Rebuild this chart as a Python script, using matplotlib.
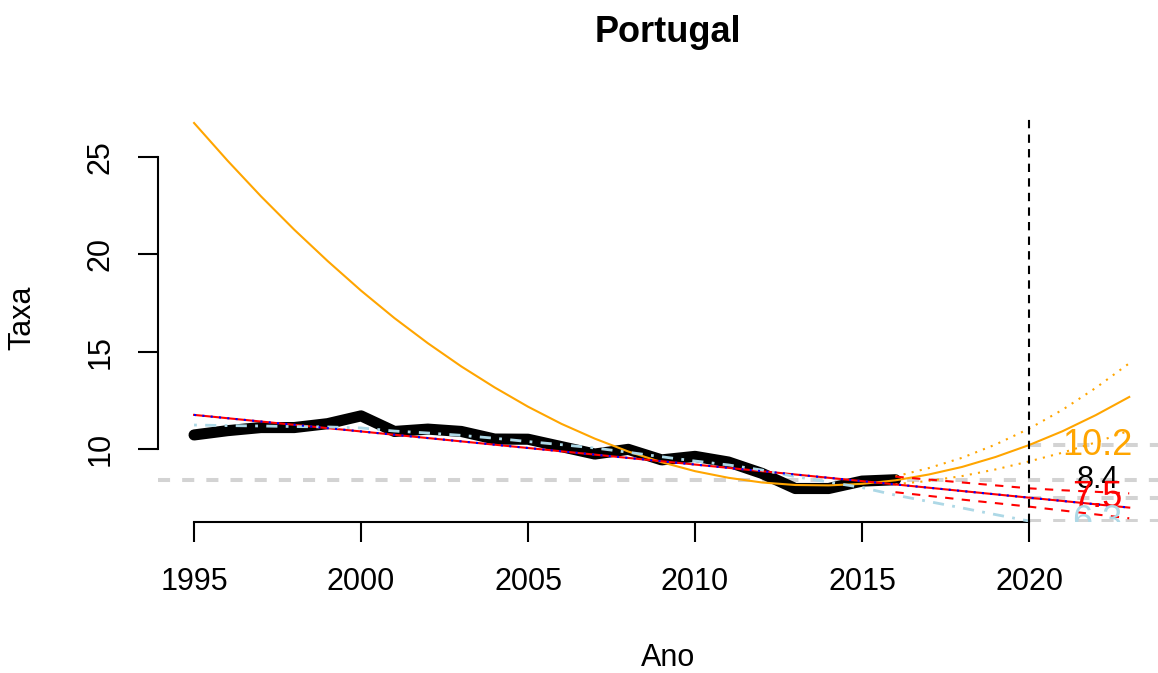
import matplotlib
matplotlib.use("Agg")
import matplotlib.pyplot as plt
import numpy as np

plt.rcParams['font.family'] = ['Liberation Sans', 'DejaVu Sans']

# ---- data ----
anos = list(range(1995, 2017))
taxa = [10.72, 10.94, 11.10, 11.10, 11.30, 11.70, 10.90, 11.02, 10.90, 10.51, 10.50,
        10.12, 9.74, 9.98, 9.44, 9.62, 9.33, 8.75, 7.97, 7.97, 8.35, 8.42]

holt_anos = list(range(1995, 2021))
holt_vals = [11.23, 11.20, 11.18, 11.15, 11.13, 11.08, 10.92, 10.82, 10.70, 10.55, 10.38,
             10.22, 10.05, 9.83, 9.60, 9.38, 9.18, 8.92, 8.58, 8.30, 8.02, 7.63,
             7.30, 6.97, 6.63, 6.30]

lin_anos = [1995, 2023]
lin_vals = [11.75, 6.99]

prev_anos = list(range(2016, 2024))
lin_sup = [8.58, 8.43, 8.28, 8.13, 7.98, 7.88, 7.80, 7.72]
lin_inf = [7.78, 7.59, 7.40, 7.22, 7.04, 6.84, 6.64, 6.44]

quad_anos = list(range(1995, 2024))
quad_vals = [26.74, 24.81, 22.98, 21.26, 19.65, 18.13, 16.72, 15.43, 14.24, 13.16,
             12.17, 11.29, 10.53, 9.87, 9.32, 8.86, 8.52, 8.28, 8.15, 8.13,
             8.21, 8.39, 8.69, 9.08, 9.59, 10.20, 10.91, 11.74, 12.67]
quad_sup = [8.59, 9.02, 9.55, 10.23, 11.04, 12.01, 13.14, 14.40]
quad_inf = [8.19, 8.36, 8.61, 8.95, 9.36, 9.81, 10.34, 10.94]

ano_prev = 2020
prev_labels = ["10.2", "8.4", "7.5", "6.3"]
prev_vals = [10.2, 8.4, 7.5, 6.3]
prev_cores = ["orange", "black", "red", "lightblue"]
prev_sizes = [26, 22, 26, 26]

xticks = [1995, 2000, 2005, 2010, 2015, 2020]
yticks = [10, 15, 20, 25]

# ---- figure ----
W, H = 1158, 673
fig = plt.figure(figsize=(W / 100, H / 100), dpi=100)
L, R, T, B = 158, 1178, 115, 522
ax = fig.add_axes([L / W, (H - B) / H, (R - L) / W, (B - T) / H])
ax.set_xlim(1993.92, 2024.46)
ax.set_ylim(6.25, 27.15)

# horizontal reference lines
ax.axhline(8.4, color='lightgray', lw=2.9, ls=(0, (3, 3)), zorder=1)
for v in [10.2, 7.5, 6.3]:
    ax.plot([ano_prev, 2030], [v, v], color='lightgray', lw=2.9, ls=(0, (3, 3)), zorder=1)

# observed series
ax.plot(anos, taxa, color='black', lw=8, solid_capstyle='round', solid_joinstyle='round', zorder=2)

# quadratic fit
ax.plot(quad_anos, quad_vals, color='orange', lw=1.5, zorder=3)
ax.plot(prev_anos, quad_sup, color='orange', lw=1.5, ls=(0, (1, 3)), zorder=3)
ax.plot(prev_anos, quad_inf, color='orange', lw=1.5, ls=(0, (1, 3)), zorder=3)

# linear fit
ax.plot(lin_anos, lin_vals, color='red', lw=1.5, zorder=3)
ax.plot(lin_anos, lin_vals, color='blue', lw=1.5, ls=(0, (1, 3)), zorder=4)
ax.plot(prev_anos, lin_sup, color='red', lw=1.5, ls=(0, (4, 4)), zorder=3)
ax.plot(prev_anos, lin_inf, color='red', lw=1.5, ls=(0, (4, 4)), zorder=3)

# Holt
ax.plot(holt_anos, holt_vals, color='lightblue', lw=2.0, ls=(0, (1, 3, 4, 3)), zorder=3)

# vertical line
ax.axvline(ano_prev, color='black', lw=1.5, ls=(0, (4, 3)), zorder=4)

# forecast labels
for lab, v, c, s in zip(prev_labels, prev_vals, prev_cores, prev_sizes):
    ax.text(2022.05, v, lab, color=c, fontsize=s, ha='center', va='center', clip_on=True, zorder=5)

# axes styling (R base style)
for sp in ['top', 'right']:
    ax.spines[sp].set_visible(False)
ax.spines['left'].set_bounds(10, 25)
ax.spines['bottom'].set_bounds(1995, 2020)
ax.spines['left'].set_linewidth(1.5)
ax.spines['bottom'].set_linewidth(1.5)
ax.set_xticks(xticks)
ax.set_yticks(yticks)
ax.set_xticklabels([str(t) for t in xticks])
ax.set_yticklabels([str(t) for t in yticks], rotation=90, va='center')
ax.tick_params(axis='both', length=14.4, width=1.5, labelsize=22, direction='out')
ax.tick_params(axis='x', pad=18)
ax.tick_params(axis='y', pad=16)

fig.text(668 / W, 1 - 33 / H, "Portugal", fontsize=26, fontweight='bold', ha='center', va='center')
fig.text(668 / W, 1 - 658 / H, "Ano", fontsize=22, ha='center', va='center')
fig.text(22 / W, 1 - 318 / H, "Taxa", fontsize=22, ha='center', va='center', rotation=90)

fig.savefig("out.png", dpi=100)
